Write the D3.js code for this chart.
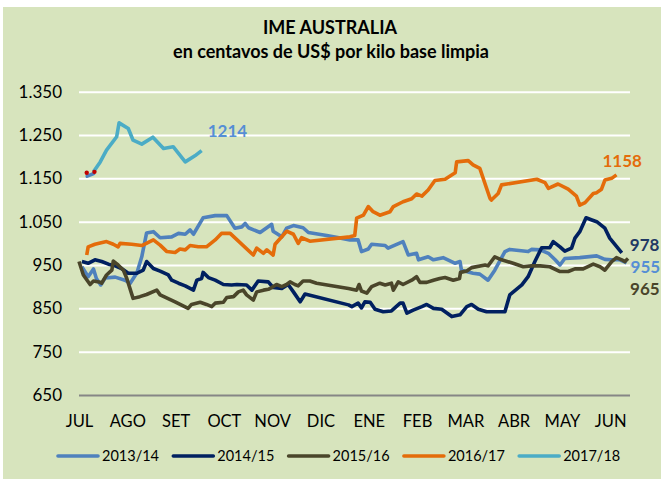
<!DOCTYPE html>
<html>
<head>
<meta charset="utf-8">
<script src="https://cdn.jsdelivr.net/npm/d3@7"></script>
<style>
  body { margin: 0; background: #fff; }
  #grafico { width: 661px; height: 481px; }
  text { font-family: Lato, "Open Sans", sans-serif; }
</style>
</head>
<body>
<div id="grafico"></div>
<script>
// Datos (x = mes desde JUL = 0, y = centavos US$/kg)
const meses = ['JUL', 'AGO', 'SET', 'OCT', 'NOV', 'DIC', 'ENE', 'FEB', 'MAR', 'ABR', 'MAY', 'JUN'];
const ticksY = [650, 750, 850, 950, 1050, 1150, 1250, 1350];
const temporadas = ['2013/14', '2014/15', '2015/16', '2016/17', '2017/18'];

const serie1314 = [[0.06,946],[0.19,923],[0.30,941],[0.36,919],[0.45,904],[0.54,920],[0.75,922],[0.95,915],[1.06,908],[1.20,932],[1.30,969],[1.40,1024],[1.54,1027],[1.68,1013],[1.92,1015],[2.06,1023],[2.20,1021],[2.30,1031],[2.37,1021],[2.57,1059],[2.82,1064],[3.06,1064],[3.23,1035],[3.37,1038],[3.44,1046],[3.51,1036],[3.75,1025],[3.99,1044],[4.02,1028],[4.20,1015],[4.30,1035],[4.44,1041],[4.64,1036],[4.75,1025],[5.13,1018],[5.61,1008],[5.78,1008],[5.85,981],[5.99,987],[6.06,998],[6.34,995],[6.40,989],[6.71,1004],[6.82,973],[6.99,977],[7.03,962],[7.23,969],[7.34,962],[7.54,967],[7.79,954],[7.89,958],[7.92,938],[8.16,931],[8.30,929],[8.47,915],[8.61,938],[8.82,981],[8.92,986],[9.30,981],[9.37,986],[9.55,985],[9.72,977],[9.86,962],[9.96,950],[10.06,965],[10.37,967],[10.72,971],[10.89,963],[11.03,962],[11.20,962],[11.34,955]];

const serie1415 = [[0.06,958],[0.19,954],[0.33,962],[0.47,958],[0.61,952],[0.75,948],[0.88,942],[1.02,931],[1.20,931],[1.33,938],[1.40,958],[1.54,942],[1.68,936],[1.85,927],[1.92,915],[2.06,908],[2.20,902],[2.37,892],[2.44,915],[2.54,919],[2.57,933],[2.68,921],[2.82,915],[2.99,905],[3.16,904],[3.27,905],[3.47,904],[3.58,892],[3.71,913],[3.92,911],[4.02,898],[4.20,896],[4.33,905],[4.44,888],[4.58,865],[4.68,883],[5.58,858],[5.65,854],[5.78,862],[5.85,851],[5.92,865],[6.03,864],[6.13,848],[6.30,842],[6.47,844],[6.65,862],[6.71,862],[6.79,839],[6.92,846],[7.10,854],[7.20,859],[7.34,850],[7.51,848],[7.72,831],[7.89,835],[8.03,854],[8.13,859],[8.27,848],[8.44,842],[8.82,842],[8.92,881],[9.17,904],[9.30,923],[9.44,958],[9.58,990],[9.75,990],[9.82,1004],[9.96,992],[10.06,982],[10.20,989],[10.27,1012],[10.37,1027],[10.50,1059],[10.62,1054],[10.72,1050],[10.89,1035],[10.99,1012],[11.24,978]];

const serie1516 = [[0.00,958],[0.09,927],[0.23,905],[0.30,913],[0.44,910],[0.47,908],[0.57,927],[0.68,938],[0.71,959],[0.81,950],[0.92,938],[0.99,919],[1.12,873],[1.26,877],[1.40,882],[1.61,892],[1.68,881],[1.99,865],[2.26,850],[2.33,859],[2.51,864],[2.64,859],[2.75,854],[2.82,862],[2.99,864],[3.06,875],[3.20,877],[3.30,888],[3.40,892],[3.47,881],[3.61,869],[3.68,888],[3.82,892],[3.92,894],[3.99,898],[4.09,905],[4.20,900],[4.30,905],[4.37,911],[4.47,905],[4.54,902],[4.64,913],[4.78,913],[4.92,908],[5.58,896],[5.75,892],[5.80,905],[5.85,890],[5.96,885],[6.06,900],[6.23,908],[6.34,904],[6.47,908],[6.51,892],[6.61,911],[6.71,905],[6.89,915],[6.99,923],[7.06,910],[7.20,910],[7.34,915],[7.47,919],[7.58,921],[7.75,915],[7.88,919],[7.90,933],[8.03,936],[8.13,944],[8.41,950],[8.47,948],[8.61,969],[8.75,962],[8.99,954],[9.20,946],[9.37,948],[9.55,948],[9.75,946],[9.96,935],[10.13,935],[10.27,941],[10.44,941],[10.65,952],[10.79,946],[10.89,938],[11.03,958],[11.13,967],[11.24,962],[11.30,958],[11.37,965]];

const serie1617 = [[0.16,973],[0.19,992],[0.33,998],[0.57,1004],[0.71,998],[0.81,992],[0.85,1000],[1.09,998],[1.30,995],[1.54,1008],[1.68,996],[1.82,981],[1.99,979],[2.09,987],[2.20,985],[2.30,995],[2.47,992],[2.64,992],[2.82,1008],[2.95,1023],[3.13,1023],[3.61,973],[3.68,989],[3.82,977],[3.89,985],[4.02,973],[4.06,998],[4.30,1028],[4.44,1021],[4.54,1000],[4.61,1013],[4.78,1005],[5.61,1015],[5.71,1018],[5.75,1058],[5.89,1065],[5.99,1085],[6.09,1073],[6.23,1065],[6.44,1073],[6.51,1085],[6.71,1096],[6.89,1103],[6.99,1114],[7.10,1109],[7.23,1123],[7.37,1145],[7.58,1148],[7.79,1163],[7.82,1188],[8.06,1191],[8.16,1181],[8.30,1173],[8.51,1104],[8.54,1100],[8.68,1115],[8.75,1135],[9.48,1148],[9.65,1140],[9.72,1127],[9.92,1137],[10.13,1125],[10.30,1109],[10.37,1088],[10.48,1094],[10.65,1115],[10.72,1117],[10.82,1125],[10.89,1146],[11.03,1150],[11.13,1158]];

const serie1718 = [[0.30,1165],[0.44,1188],[0.57,1215],[0.78,1246],[0.83,1278],[1.02,1265],[1.12,1238],[1.30,1229],[1.53,1245],[1.75,1219],[1.95,1223],[2.20,1188],[2.40,1202],[2.54,1214]];

// tramo inicial con marcadores rojos (2017/18)
const inicio1718 = [[0.17,1155],[0.30,1161]];
const marcasRojas = [[0.16,1163],[0.32,1165]];

const series = [serie1314, serie1415, serie1516, serie1617, serie1718];

// Estilos y ubicación
const colores = ['#4F81BD', '#002060', '#4A452A', '#E46C0A', '#4BACC6'];
const coloresEtiqueta = { '2013/14': '#558ED5', '2014/15': '#1F3864', '2015/16': '#4A452A', '2016/17': '#E46C0A', '2017/18': '#558ED5' };
// desplazamiento (px) de la etiqueta del último valor respecto al último punto
const desplEtiqueta = { '2013/14': [4, 10], '2014/15': [8, -2], '2015/16': [2, 36], '2016/17': [-14, -8], '2017/18': [6, -14] };

class GraficoIME {
    constructor(containerId) {
        this.containerId = containerId;
        this.width = 661;
        this.height = 481;
        this.plot = { left: 79, right: 630, top: 91.7, bottom: 395 };
    }

    init() {
        const container = d3.select(`#${this.containerId}`);
        this.svg = container.append('svg')
            .attr('width', this.width)
            .attr('height', this.height);

        this.svg.append('rect')
            .attr('x', 3).attr('y', 7)
            .attr('width', this.width - 3).attr('height', 472)
            .attr('fill', '#D7E4BD');

        this.x = d3.scaleLinear().domain([0, 11.41]).range([this.plot.left, this.plot.right]);
        this.y = d3.scaleLinear().domain([650, 1350]).range([this.plot.bottom, this.plot.top]);
    }

    draw() {
        if (!this.svg) this.init();
        const svg = this.svg;
        const x = this.x, y = this.y;
        const loc = d3.formatLocale({ decimal: ',', thousands: '.', grouping: [3], currency: ['', ''] });
        const fmt = loc.format(',');

        // titulo
        svg.append('text')
            .attr('x', 330).attr('y', 34)
            .attr('text-anchor', 'middle')
            .style('font-size', '18px').style('font-weight', 'bold')
            .attr('fill', '#000')
            .text('IME AUSTRALIA');
        svg.append('text')
            .attr('x', 331).attr('y', 58)
            .attr('text-anchor', 'middle')
            .style('font-size', '18px').style('font-weight', 'bold')
            .attr('fill', '#000')
            .text('en centavos de US$ por kilo base limpia');

        // eje Y con lineas de grilla
        const ejeY = svg.append('g')
            .attr('transform', `translate(${this.plot.left},0)`)
            .call(d3.axisLeft(y).tickValues(ticksY).tickFormat(fmt)
                .tickSize(-(this.plot.right - this.plot.left)).tickPadding(17));
        ejeY.select('.domain').remove();
        ejeY.selectAll('.tick line')
            .attr('stroke', d => d === 650 ? '#868686' : '#fff')
            .attr('stroke-width', 2);
        ejeY.selectAll('.tick text')
            .style('font-size', '17px').attr('fill', '#000');

        // meses
        const ejeX = svg.append('g')
            .attr('transform', `translate(0,${this.plot.bottom})`)
            .call(d3.axisBottom(x).tickValues(d3.range(meses.length))
                .tickFormat(i => meses[i]).tickSize(0).tickPadding(20));
        ejeX.select('.domain').remove();
        ejeX.selectAll('.tick text')
            .style('font-size', '16.5px').attr('fill', '#000');

        // series
        const linea = d3.line().x(d => x(d[0])).y(d => y(d[1]));
        svg.append('g').selectAll('path')
            .data(series)
            .join('path')
            .attr('d', linea)
            .attr('fill', 'none')
            .attr('stroke', (d, i) => colores[i])
            .attr('stroke-width', 3.6)
            .attr('stroke-linejoin', 'round');

        svg.append('path')
            .datum(inicio1718)
            .attr('d', linea)
            .attr('fill', 'none')
            .attr('stroke', colores[0])
            .attr('stroke-width', 3.6)
            .attr('stroke-linecap', 'round');
        svg.append('g').selectAll('circle')
            .data(marcasRojas)
            .join('circle')
            .attr('cx', d => x(d[0])).attr('cy', d => y(d[1]))
            .attr('r', 2.2).attr('fill', '#C00000');

        // etiquetas del ultimo valor
        svg.append('g').selectAll('text')
            .data(series.map((s, i) => ({ t: temporadas[i], p: s[s.length - 1] })))
            .join('text')
            .attr('x', d => x(d.p[0]) + desplEtiqueta[d.t][0])
            .attr('y', d => y(d.p[1]) + desplEtiqueta[d.t][1])
            .style('font-size', '17px').style('font-weight', 'bold')
            .attr('fill', d => coloresEtiqueta[d.t])
            .text(d => d.p[1]);

        // leyenda
        const leyenda = svg.append('g')
            .attr('transform', 'translate(58,456)');
        const item = leyenda.selectAll('g')
            .data(temporadas)
            .join('g')
            .attr('transform', (d, i) => `translate(${i * 115.3},0)`);
        item.append('line')
            .attr('x1', 0).attr('x2', 40)
            .attr('stroke', (d, i) => colores[i])
            .attr('stroke-width', 3.6)
            .attr('stroke-linecap', 'round');
        item.append('text')
            .attr('x', 44).attr('dy', '0.35em')
            .style('font-size', '14.5px').attr('fill', '#000')
            .text(d => d);
    }
}

const grafico = new GraficoIME('grafico');
grafico.draw();
</script>
</body>
</html>
